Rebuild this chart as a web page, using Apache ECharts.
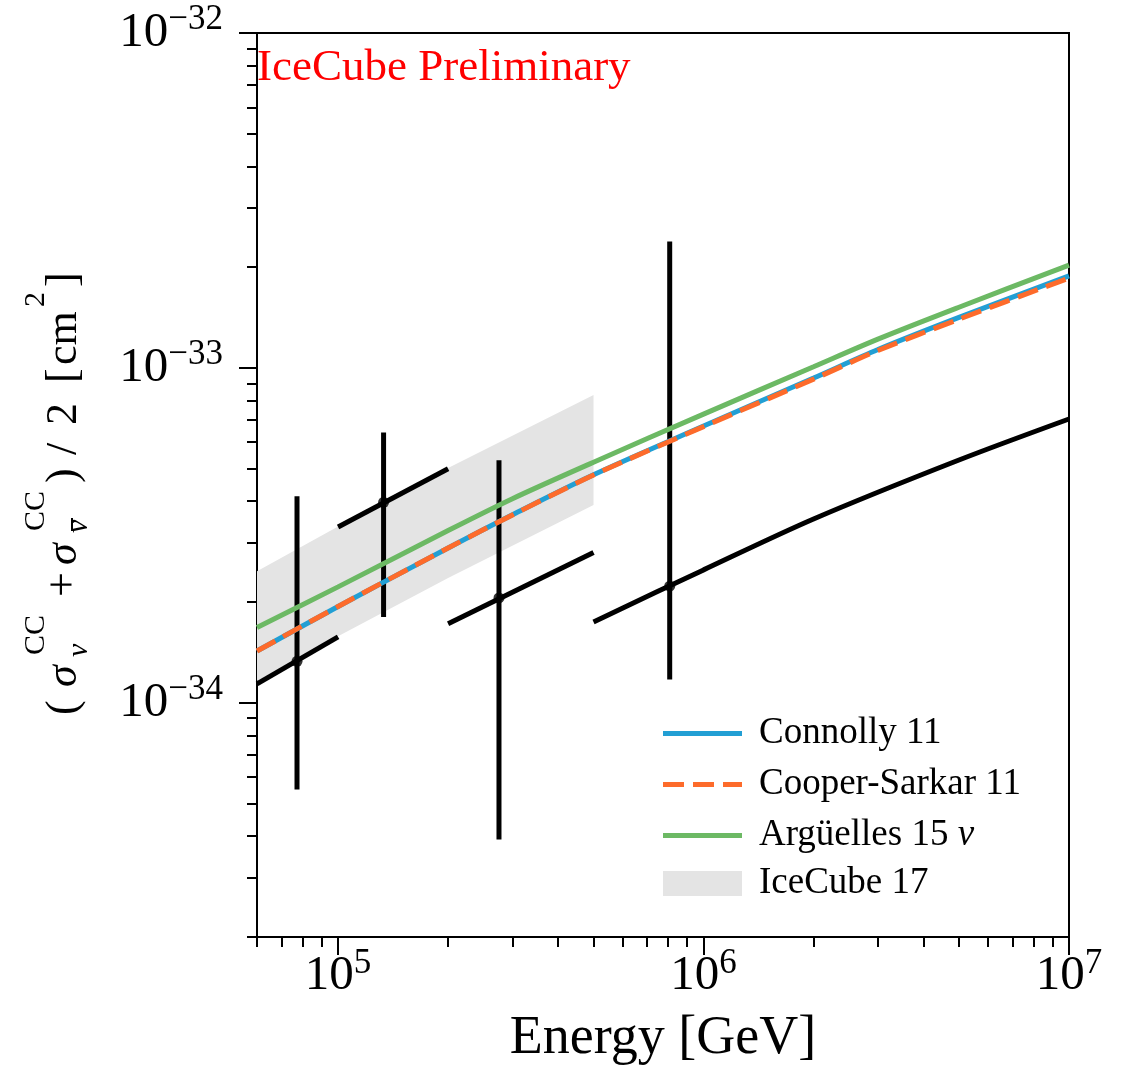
<!DOCTYPE html>
<html>
<head>
<meta charset="utf-8">
<script src="https://cdn.jsdelivr.net/npm/echarts@6.0.0/dist/echarts.min.js"></script>
<style>
  html, body { margin: 0; padding: 0; background: #fff; }
  #chart { width: 1129px; height: 1078px; }
</style>
</head>
<body>
<div id="chart"></div>
<script>
// model curves, energy in GeV, cross section in cm^2
var energies = [6e4, 1e5, 2e5, 3e5, 5e5, 1e6, 2e6, 3e6, 5e6, 1e7]
var connolly = [1.428e-34, 1.94e-34, 2.90e-34, 3.645e-34, 4.80e-34, 6.71e-34, 9.33e-34, 1.135e-33, 1.416e-33, 1.882e-33]
var cooperSarkar = [1.428e-34, 1.94e-34, 2.90e-34, 3.64e-34, 4.79e-34, 6.68e-34, 9.26e-34, 1.127e-33, 1.398e-33, 1.855e-33]
var arguelles = [1.678e-34, 2.22e-34, 3.27e-34, 4.07e-34, 5.23e-34, 7.28e-34, 1.008e-33, 1.219e-33, 1.518e-33, 2.027e-33]

// IceCube 17 band
var bandE = [6e4, 1e5, 2e5, 5e5]
var bandLow = [1.162e-34, 1.58e-34, 2.36e-34, 3.90e-34]
var bandHigh = [2.47e-34, 3.36e-34, 5.03e-34, 8.30e-34]

// measured bins: segment shapes across each energy bin
var binSegE = [[6e4, 1e5], [1e5, 2e5], [2e5, 5e5], [5e5, 1e6, 2e6, 5e6, 1e7]]
var binSegS = [
  [1.139e-34, 1.574e-34],
  [3.35e-34, 5.00e-34],
  [1.722e-34, 2.813e-34],
  [1.745e-34, 2.495e-34, 3.54e-34, 5.31e-34, 7.04e-34]
]
// points with vertical errors
var pointE = [7.72e4, 1.332e5, 2.756e5, 8.08e5]
var pointS = [1.331e-34, 3.97e-34, 2.058e-34, 2.23e-34]
var pointLo = [5.51e-35, 1.806e-34, 3.91e-35, 1.174e-34]
var pointHi = [4.136e-34, 6.42e-34, 5.30e-34, 2.386e-33]

// axis ticks
var xRange = [6e4, 1e7]
var xMajor = [1e5, 1e6, 1e7]
var xMinor = [6e4, 7e4, 8e4, 9e4, 2e5, 3e5, 4e5, 5e5, 6e5, 7e5, 8e5, 9e5, 2e6, 3e6, 4e6, 5e6, 6e6, 7e6, 8e6, 9e6]
var yRange = [2e-35, 1e-32]
var yMajor = [1e-34, 1e-33, 1e-32]
var yMinor = [2e-35, 3e-35, 4e-35, 5e-35, 6e-35, 7e-35, 8e-35, 9e-35, 2e-34, 3e-34, 4e-34, 5e-34, 6e-34, 7e-34, 8e-34, 9e-34, 2e-33, 3e-33, 4e-33, 5e-33, 6e-33, 7e-33, 8e-33, 9e-33]

// echarts rounds very small numbers to 0, so the y axis runs in units of 1e-35 cm^2
var yUnitExp = -35
function ys(v) { return v * Math.pow(10, -yUnitExp) }

var serif = '"Liberation Serif", "DejaVu Serif", serif'
var blue = '#229fd4'
var orange = '#fd6b2b'
var green = '#6cb964'
var bandColor = '#e4e4e4'

function powLabel(shift) {
  return function (v) {
    var e = Math.round(Math.log10(v)) + shift
    return '{b|10}{s|' + (e < 0 ? '\u2212' + (-e) : e) + '}'
  }
}
// bottom padding on the exponent lifts it above the middle line
var labelRich = {
  b: { fontSize: 49, lineHeight: 49, fontFamily: 'Liberation Serif', color: '#000' },
  s: { fontSize: 35, lineHeight: 35, fontFamily: 'Liberation Serif', color: '#000', padding: [0, 0, 26, 0] }
}

function pairs(xs, vals) {
  return xs.map(function (v, i) { return [v, ys(vals[i])] })
}

var series = [
  {
    name: 'IceCube 17',
    type: 'custom',
    z: 1,
    silent: true,
    itemStyle: { color: bandColor },
    data: bandE.map(function (e, i) { return [e, ys(bandLow[i]), ys(bandHigh[i])] }),
    encode: { x: 0, y: [1, 2] },
    renderItem: function (params, api) {
      if (params.dataIndex !== 0) return
      var upper = []
      var lower = []
      for (var i = 0; i < bandE.length; i++) {
        upper.push(api.coord([bandE[i], ys(bandHigh[i])]))
        lower.unshift(api.coord([bandE[i], ys(bandLow[i])]))
      }
      return {
        type: 'polygon',
        shape: { points: upper.concat(lower) },
        style: { fill: bandColor }
      }
    }
  }
]

binSegE.forEach(function (es, k) {
  series.push({
    name: 'bin' + k,
    type: 'line',
    z: 2,
    silent: true,
    symbol: 'none',
    smooth: 0.3,
    lineStyle: { color: '#000', width: 5 },
    data: pairs(es, binSegS[k])
  })
})

series.push({
  name: 'errors',
  type: 'custom',
  z: 2,
  silent: true,
  data: pointE.map(function (e, i) { return [e, ys(pointS[i]), ys(pointLo[i]), ys(pointHi[i])] }),
  encode: { x: 0, y: [2, 3] },
  renderItem: function (params, api) {
    var p1 = api.coord([api.value(0), api.value(2)])
    var p2 = api.coord([api.value(0), api.value(3)])
    return {
      type: 'line',
      shape: { x1: p1[0], y1: p1[1], x2: p2[0], y2: p2[1] },
      style: { stroke: '#000', lineWidth: 5 }
    }
  }
})

series.push({
  name: 'points',
  type: 'scatter',
  z: 2,
  silent: true,
  symbolSize: 11,
  itemStyle: { color: '#000' },
  data: pairs(pointE, pointS)
})

series.push(
  {
    name: 'Connolly 11',
    type: 'line',
    z: 3,
    symbol: 'none',
    smooth: 0.3,
    lineStyle: { color: blue, width: 5 },
    itemStyle: { color: blue },
    data: pairs(energies, connolly)
  },
  {
    name: 'Cooper-Sarkar 11',
    type: 'line',
    z: 3,
    symbol: 'none',
    smooth: 0.3,
    lineStyle: { color: orange, width: 5, type: [21, 9] },
    itemStyle: { color: orange },
    data: pairs(energies, cooperSarkar)
  },
  {
    name: 'Argüelles 15 ν',
    type: 'line',
    z: 3,
    symbol: 'none',
    smooth: 0.3,
    lineStyle: { color: green, width: 5 },
    itemStyle: { color: green },
    data: pairs(energies, arguelles)
  }
)

// y axis title, laid out on its baseline and then rotated
var fsMain = 44
var fsSmall = 30
function piece(text, s, base, size, italic) {
  return {
    type: 'text',
    x: s,
    y: base - 0.35 * size,
    style: {
      text: text,
      font: (italic ? 'italic ' : '') + size + 'px ' + serif,
      fill: '#000',
      verticalAlign: 'middle',
      align: 'left'
    }
  }
}
var yTitle = [
  piece('(', 0, 0, fsMain),
  piece('σ', 28, 0, fsMain, true),
  piece('CC', 60, -33, fsSmall),
  piece('ν', 58, 10, fsSmall, true),
  piece('+', 118, 0, fsMain),
  piece('σ', 150, 0, fsMain, true),
  piece('CC', 184, -33, fsSmall),
  piece('ν', 182, 10, fsSmall, true),
  {
    type: 'line',
    shape: { x1: 184, y1: -8, x2: 197, y2: -8 },
    style: { stroke: '#000', lineWidth: 2 }
  },
  piece(')', 232, 0, fsMain),
  piece('/', 260, 0, fsMain),
  piece('2', 290, 0, fsMain),
  piece('[', 332, 0, fsMain),
  piece('cm', 350, 0, fsMain),
  piece('2', 408, -33, fsSmall),
  piece(']', 428, 0, fsMain)
]

var dashIcon = 'path://M0,0h21v5h-21zM30,0h21v5h-21zM60,0h19v5h-19z'
var legendText = {
  fontFamily: 'Liberation Serif',
  fontSize: 37,
  lineHeight: 36,
  color: '#000',
  padding: [0, 0, 0, 12],
  rich: { i: { fontFamily: 'Liberation Serif', fontSize: 37, fontStyle: 'italic', color: '#000' } }
}

var chart = echarts.init(document.getElementById('chart'))
var option = {
  animation: false,
  backgroundColor: '#fff',
  grid: {
    left: 257,
    right: 60,
    top: 33,
    bottom: 141,
    containLabel: false,
    outerBoundsMode: 'none',
    show: true,
    borderColor: '#000',
    borderWidth: 2,
    backgroundColor: 'transparent'
  },
  legend: [
    {
      orient: 'vertical',
      left: 658,
      top: 710,
      itemWidth: 79,
      itemHeight: 5,
      itemGap: 14,
      selectedMode: false,
      textStyle: legendText,
      formatter: function (name) { return name.replace('ν', '{i|ν}') },
      data: [
        { name: 'Connolly 11', icon: 'rect' },
        { name: 'Cooper-Sarkar 11', icon: dashIcon },
        { name: 'Argüelles 15 ν', icon: 'rect' }
      ]
    },
    {
      orient: 'vertical',
      left: 658,
      top: 860,
      itemWidth: 79,
      itemHeight: 25,
      selectedMode: false,
      textStyle: legendText,
      data: [{ name: 'IceCube 17', icon: 'rect', itemStyle: { color: bandColor } }]
    }
  ],
  xAxis: [
    {
      type: 'log',
      logBase: 10,
      min: xRange[0],
      max: xRange[1],
      name: 'Energy [GeV]',
      nameLocation: 'middle',
      nameGap: 72,
      nameTextStyle: { fontFamily: 'Liberation Serif', fontSize: 54, color: '#000' },
      axisLine: { lineStyle: { color: '#000', width: 2 } },
      axisTick: { customValues: xMajor, length: 18, lineStyle: { color: '#000', width: 2 } },
      axisLabel: { customValues: xMajor, margin: 15, formatter: powLabel(0), rich: labelRich },
      splitLine: { show: false }
    },
    {
      type: 'log',
      logBase: 10,
      min: xRange[0],
      max: xRange[1],
      position: 'bottom',
      axisLine: { show: false },
      axisTick: { customValues: xMinor, length: 10, lineStyle: { color: '#000', width: 2 } },
      axisLabel: { show: false },
      splitLine: { show: false }
    }
  ],
  yAxis: [
    {
      type: 'log',
      logBase: 10,
      min: ys(yRange[0]),
      max: ys(yRange[1]),
      axisLine: { lineStyle: { color: '#000', width: 2 } },
      axisTick: { customValues: yMajor.map(ys), length: 18, lineStyle: { color: '#000', width: 2 } },
      axisLabel: { customValues: yMajor.map(ys), margin: 34, formatter: powLabel(yUnitExp), rich: labelRich },
      splitLine: { show: false }
    },
    {
      type: 'log',
      logBase: 10,
      min: ys(yRange[0]),
      max: ys(yRange[1]),
      position: 'left',
      axisLine: { show: false },
      axisTick: { customValues: yMinor.map(ys), length: 10, lineStyle: { color: '#000', width: 2 } },
      axisLabel: { show: false },
      splitLine: { show: false }
    }
  ],
  graphic: [
    {
      type: 'text',
      left: 257,
      top: 46,
      style: { text: 'IceCube Preliminary', font: '45px ' + serif, fill: '#ff0000' }
    },
    {
      type: 'group',
      x: 80,
      y: 715,
      rotation: Math.PI / 2,
      children: yTitle
    }
  ],
  series: series
}
chart.setOption(option)
</script>
</body>
</html>
